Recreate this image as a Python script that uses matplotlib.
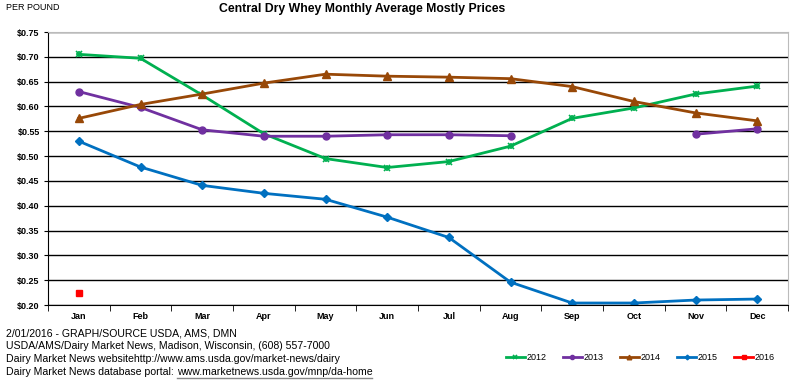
import numpy as np
import matplotlib.pyplot as plt

plt.rcParams['font.family'] = ['Liberation Sans', 'DejaVu Sans']

months = ['Jan', 'Feb', 'Mar', 'Apr', 'May', 'Jun', 'Jul', 'Aug', 'Sep', 'Oct', 'Nov', 'Dec']
nan = np.nan
y2012 = [0.705, 0.697, 0.623, 0.545, 0.495, 0.477, 0.489, 0.520, 0.576, 0.597, 0.625, 0.641]
y2013 = [0.630, 0.598, 0.553, 0.540, 0.540, 0.543, 0.543, 0.541, nan, nan, 0.544, 0.555]
y2014 = [0.576, 0.604, 0.625, 0.647, 0.665, 0.661, 0.659, 0.656, 0.640, 0.610, 0.587, 0.571]
y2015 = [0.530, 0.478, 0.441, 0.425, 0.413, 0.377, 0.336, 0.246, 0.204, 0.204, 0.210, 0.212]
y2016 = [0.225]

fig = plt.figure(figsize=(7.91, 3.81), dpi=100)
ax = fig.add_axes([48 / 791, 1 - 305 / 381, 740 / 791, 273 / 381])

x = np.arange(12)
ax.plot(x, y2012, color='#00B050', lw=2, marker='x', ms=5, mew=1.2, label='2012')
ax.plot(x, y2012, color='#00B050', lw=0, marker='+', ms=5, mew=1.2)
ax.plot(x, y2013, color='#7030A0', lw=2, marker='o', ms=5, label='2013')
ax.plot(x, y2014, color='#984807', lw=2, marker='^', ms=5.5, label='2014')
ax.plot(x, y2015, color='#0070C0', lw=2, marker='D', ms=4, label='2015')
ax.plot(x[:1], y2016, color='#FF0000', lw=2, marker='s', ms=5, label='2016')

ax.set_xlim(-0.5, 11.5)
ax.set_ylim(0.20, 0.75)
ax.set_yticks(np.arange(0.20, 0.751, 0.05))
ax.set_yticklabels(['$%.2f' % v for v in np.arange(0.20, 0.751, 0.05)],
                   fontsize=6.5, fontweight='bold')
ax.set_xticks(x)
ax.set_xticklabels(months, fontsize=6.5, fontweight='bold')
ax.set_xticks(np.arange(-0.5, 12, 1), minor=True)
ax.tick_params(axis='x', which='major', length=0, pad=5)
ax.tick_params(axis='x', which='minor', length=4, direction='out')
ax.tick_params(axis='y', length=3, pad=3)
ax.grid(axis='y', color='black', lw=1)
ax.set_axisbelow(True)
for s in ['top', 'right']:
    ax.spines[s].set_color('#BBBBBB')
for s in ['left', 'bottom']:
    ax.spines[s].set_color('black')

fig.text(6 / 791, 1 - 8 / 381, 'PER POUND', fontsize=6.5, va='center')
fig.text(362 / 791, 1 - 9 / 381, 'Central Dry Whey Monthly Average Mostly Prices',
         fontsize=8.8, fontweight='bold', ha='center', va='center')

foot = ['2/01/2016 - GRAPH/SOURCE USDA, AMS, DMN',
        'USDA/AMS/Dairy Market News, Madison, Wisconsin, (608) 557-7000',
        'Dairy Market News websitehttp://www.ams.usda.gov/market-news/dairy']
for i, t in enumerate(foot):
    fig.text(6 / 791, 1 - (333 + 13 * i) / 381, t, fontsize=7.6, va='center')
prefix = fig.text(6 / 791, 1 - 372 / 381, 'Dairy Market News database portal:',
                  fontsize=7.6, va='center')
fig.canvas.draw()
bb = prefix.get_window_extent()
x0 = bb.x1 + 3
url = fig.text(x0 / 791, 1 - 372 / 381, 'www.marketnews.usda.gov/mnp/da-home',
               fontsize=7.6, va='center')
fig.canvas.draw()
bb2 = url.get_window_extent()
fig.lines.append(plt.Line2D([bb2.x0 / 791, bb2.x1 / 791], [1 - 378 / 381] * 2,
                            transform=fig.transFigure, color='#888888', lw=1))

fig.legend(loc='center', bbox_to_anchor=(640 / 791, 1 - 358 / 381), ncol=5, frameon=False,
           fontsize=6.5, handlelength=2.2, handletextpad=0.1, columnspacing=1.8,
           markerscale=0.6)

plt.savefig('out.png', dpi=100)
